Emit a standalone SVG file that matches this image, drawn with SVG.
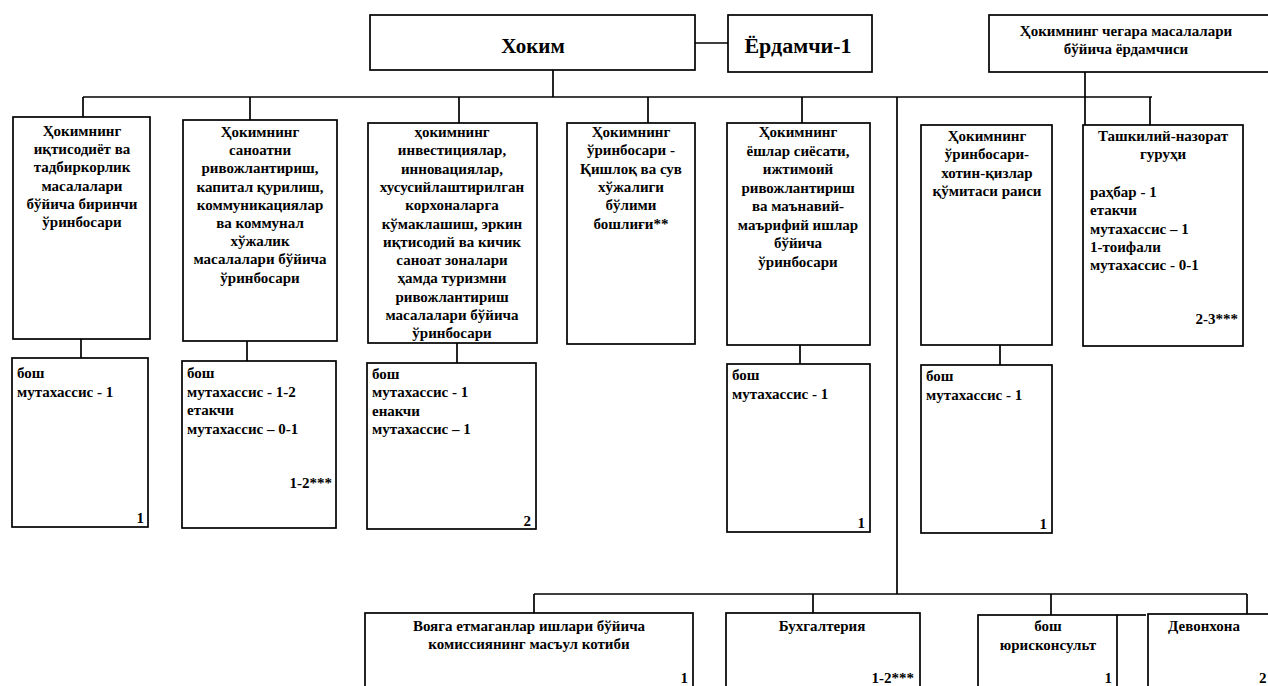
<svg xmlns="http://www.w3.org/2000/svg" width="1268" height="686" viewBox="0 0 1268 686">
<style>
.b{fill:#fff;stroke:#000;stroke-width:1.7}
.l{fill:none;stroke:#000;stroke-width:1.7}
text{font-family:"Liberation Serif","Times New Roman",serif;font-weight:bold;font-size:15px;fill:#000}
.c{text-anchor:middle}
.r{text-anchor:end}
.big{font-size:21px}
.big2{font-size:22px}
</style>
<rect width="1268" height="686" fill="#fff"/>
<g id="connectors">
<path class="l" d="M695 43H728"/>
<path class="l" d="M553 70V97"/>
<path class="l" d="M83 97H1152"/>
<path class="l" d="M83 97V117M250 97V120M459 97V123M648 97V123M802 97V123M1150 97V125"/>
<path class="l" d="M1085 72V125"/>
<path class="l" d="M897 97V594"/>
<path class="l" d="M81 339V358M247 341V361M457 343V363M800 345V364M1000 345V365"/>
<path class="l" d="M534 594H1247"/>
<path class="l" d="M534 594V613M813 594V613M1051 594V615M1247 594V614"/>
</g>
<g id="hokim">
<rect class="b" x="370" y="15" width="325" height="55"/>
<text class="c big" x="533" y="53">Хоким</text>
</g>
<g id="yordamchi1">
<rect class="b" x="728" y="15" width="144" height="57"/>
<text class="c big2" x="798" y="53">Ёрдамчи-1</text>
</g>
<g id="chegara">
<rect class="b" x="989" y="15" width="280" height="57"/>
<text class="c" x="1126" y="36">Ҳокимнинг чегара масалалари<tspan x="1126" dy="18">бўйича ёрдамчиси</tspan></text>
</g>
<g id="b1">
<rect class="b" x="13" y="117" width="137" height="222"/>
<text class="c" x="82" y="136">Ҳокимнинг<tspan x="82" dy="18.2">иқтисодиёт ва</tspan><tspan x="82" dy="18.2">тадбиркорлик</tspan><tspan x="82" dy="18.2">масалалари</tspan><tspan x="82" dy="18.2">бўйича биринчи</tspan><tspan x="82" dy="18.2">ўринбосари</tspan></text>
</g>
<g id="b2">
<rect class="b" x="183" y="120" width="154" height="221"/>
<text class="c" x="260" y="137">Ҳокимнинг<tspan x="260" dy="18.2">саноатни</tspan><tspan x="260" dy="18.2">ривожлантириш,</tspan><tspan x="260" dy="18.2">капитал қурилиш,</tspan><tspan x="260" dy="18.2">коммуникациялар</tspan><tspan x="260" dy="18.2">ва коммунал</tspan><tspan x="260" dy="18.2">хўжалик</tspan><tspan x="260" dy="18.2">масалалари бўйича</tspan><tspan x="260" dy="18.2">ўринбосари</tspan></text>
</g>
<g id="b3">
<rect class="b" x="368" y="123" width="169" height="220"/>
<text class="c" x="452" y="137">ҳокимнинг<tspan x="452" dy="18.3">инвестициялар,</tspan><tspan x="452" dy="18.3">инновациялар,</tspan><tspan x="452" dy="18.3">хусусийлаштирилган</tspan><tspan x="452" dy="18.3">корхоналарга</tspan><tspan x="452" dy="18.3">кўмаклашиш, эркин</tspan><tspan x="452" dy="18.3">иқтисодий ва кичик</tspan><tspan x="452" dy="18.3">саноат зоналари</tspan><tspan x="452" dy="18.3">ҳамда туризмни</tspan><tspan x="452" dy="18.3">ривожлантириш</tspan><tspan x="452" dy="18.3">масалалари бўйича</tspan><tspan x="452" dy="18.3">ўринбосари</tspan></text>
</g>
<g id="b4">
<rect class="b" x="567" y="123" width="128" height="221"/>
<text class="c" x="631" y="137">Ҳокимнинг<tspan x="631" dy="18.3">ўринбосари -</tspan><tspan x="631" dy="18.3">Қишлоқ ва сув</tspan><tspan x="631" dy="18.3">хўжалиги</tspan><tspan x="631" dy="18.3">бўлими</tspan><tspan x="631" dy="18.3">бошлиғи**</tspan></text>
</g>
<g id="b5">
<rect class="b" x="727" y="123" width="143" height="222"/>
<text class="c" x="798" y="137">Ҳокимнинг<tspan x="798" dy="18.5">ёшлар сиёсати,</tspan><tspan x="798" dy="18.5">ижтимоий</tspan><tspan x="798" dy="18.5">ривожлантириш</tspan><tspan x="798" dy="18.5">ва маънавий-</tspan><tspan x="798" dy="18.5">маърифий ишлар</tspan><tspan x="798" dy="18.5">бўйича</tspan><tspan x="798" dy="18.5">ўринбосари</tspan></text>
</g>
<g id="b6">
<rect class="b" x="921" y="125" width="131" height="220"/>
<text class="c" x="987" y="141">Ҳокимнинг<tspan x="987" dy="18.3">ўринбосари-</tspan><tspan x="987" dy="18.3">хотин-қизлар</tspan><tspan x="987" dy="18.3">қўмитаси раиси</tspan></text>
</g>
<g id="b7">
<rect class="b" x="1083" y="125" width="160" height="221"/>
<text class="c" x="1163" y="141">Ташкилий-назорат<tspan x="1163" dy="18.3">гуруҳи</tspan></text>
<text x="1090" y="197">раҳбар - 1<tspan x="1090" dy="18.3">етакчи</tspan><tspan x="1090" dy="18.3">мутахассис – 1</tspan><tspan x="1090" dy="18.3">1-тоифали</tspan><tspan x="1090" dy="18.3">мутахассис - 0-1</tspan></text>
<text class="r" x="1238" y="324">2-3***</text>
</g>
<g id="s1">
<rect class="b" x="12" y="358" width="136" height="169"/>
<text x="17" y="378">бош<tspan x="17" dy="18.5">мутахассис - 1</tspan></text>
<text class="r" x="144" y="523">1</text>
</g>
<g id="s2">
<rect class="b" x="182" y="361" width="154" height="167"/>
<text x="187" y="378">бош<tspan x="187" dy="18.5">мутахассис - 1-2</tspan><tspan x="187" dy="18.5">етакчи</tspan><tspan x="187" dy="18.5">мутахассис – 0-1</tspan></text>
<text class="r" x="332" y="488">1-2***</text>
</g>
<g id="s3">
<rect class="b" x="367" y="363" width="169" height="166"/>
<text x="372" y="379">бош<tspan x="372" dy="18.3">мутахассис - 1</tspan><tspan x="372" dy="18.3">енакчи</tspan><tspan x="372" dy="18.3">мутахассис – 1</tspan></text>
<text class="r" x="531" y="526">2</text>
</g>
<g id="s5">
<rect class="b" x="727" y="364" width="143" height="168"/>
<text x="732" y="380">бош<tspan x="732" dy="18.5">мутахассис - 1</tspan></text>
<text class="r" x="865" y="528">1</text>
</g>
<g id="s6">
<rect class="b" x="921" y="365" width="131" height="168"/>
<text x="926" y="381">бош<tspan x="926" dy="18.5">мутахассис - 1</tspan></text>
<text class="r" x="1047" y="529">1</text>
</g>
<g id="voyaga">
<rect class="b" x="365" y="613" width="328" height="90"/>
<text class="c" x="529" y="631">Вояга етмаганлар ишлари бўйича<tspan x="529" dy="17.5">комиссиянинг масъул котиби</tspan></text>
<text class="r" x="688" y="683">1</text>
</g>
<g id="buxgalteriya">
<rect class="b" x="726" y="613" width="194" height="90"/>
<text class="c" x="822" y="631">Бухгалтерия</text>
<text class="r" x="914" y="683">1-2***</text>
</g>
<g id="yuriskonsult">
<rect class="b" x="978" y="615" width="139" height="90"/>
<path class="l" d="M1117 615H1146"/>
<text class="c" x="1048" y="631">бош<tspan x="1048" dy="18.5">юрисконсульт</tspan></text>
<text class="r" x="1112" y="683">1</text>
</g>
<g id="devonxona">
<rect class="b" x="1148" y="614" width="140" height="90"/>
<text class="c" x="1204" y="631">Девонхона</text>
<text x="1259" y="683">2</text>
</g>
</svg>
